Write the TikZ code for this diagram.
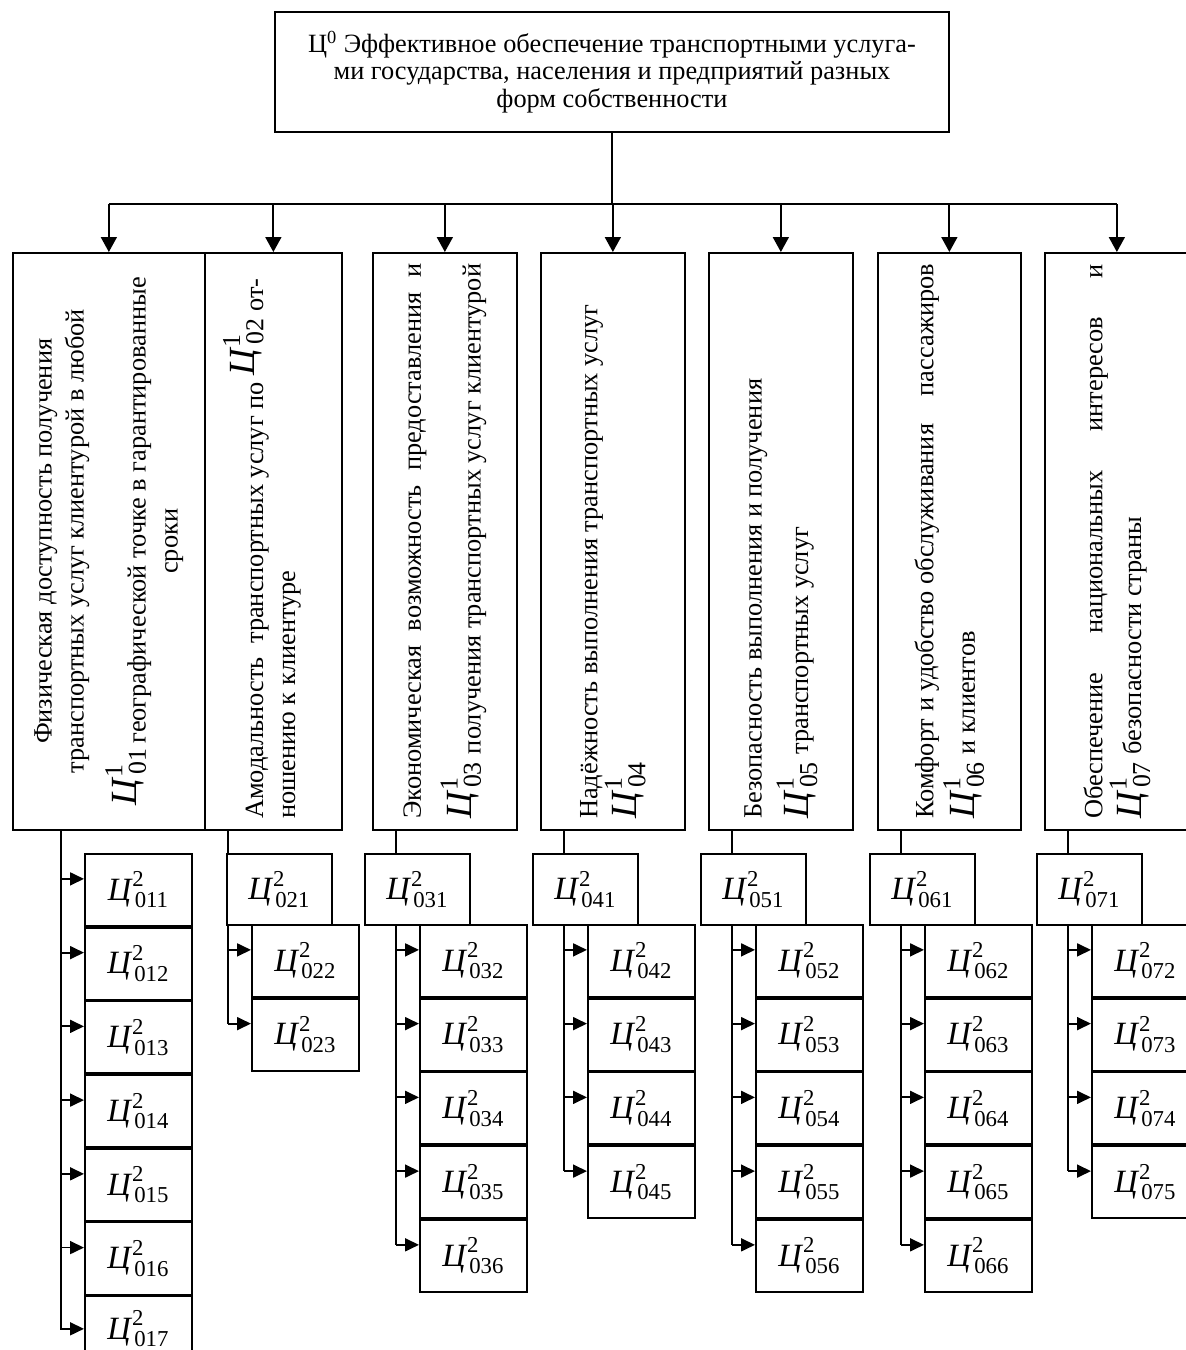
\documentclass[tikz,border=0pt]{standalone}
\usepackage{amsmath}
\usepackage{fontspec}
\setmainfont{Liberation Serif}
\usetikzlibrary{positioning,arrows.meta}
\newcommand{\celsym}[2]{{\fontsize{18.5}{18.5}\selectfont$\text{\itshape Ц}^{\mkern1mu\text{#1}}_{\mkern3mu\text{#2}}$}}
\newcommand{\celbig}[2]{{\fontsize{21}{21}\selectfont$\text{\itshape Ц}^{\mkern1mu\text{#1}}_{\mkern3mu\text{#2}}$}}
\newcommand{\celup}[2]{\smash{\raisebox{5pt}{\celbig{#1}{#2}}}}
\tikzset{
  goal/.style={draw, line width=1pt, inner sep=0pt, anchor=north west,
    minimum height=11.54cm, font=\fontsize{15}{18.2}\selectfont},
  subgoal/.style={draw, line width=1pt, inner sep=0pt, minimum width=2.14cm,
    minimum height=1.44cm},
  bus/.style={line width=1pt},
  arr/.style={line width=1pt, -{Triangle[length=0.3cm, width=0.32cm]}},
  subarr/.style={line width=1pt, -{Triangle[length=0.28cm, width=0.26cm]}}
}

\begin{document}
\begin{tikzpicture}[x=0.02cm, y=-0.02cm]
	\useasboundingbox (0,0) rectangle (1186,1350);

	\node[draw, line width=1pt, minimum width=13.48cm, minimum height=2.4cm, align=center,
	  font=\fontsize{15}{15.5}\selectfont] (c0) at (612,72)
	  {Ц\textsuperscript{0} Эффективное обеспечение транспортными услуга-\\ми государства, населения и предприятий разных\\форм собственности};

	\node[goal, minimum width=3.84cm] (c01) at (12,252) {\rotatebox{90}{\parbox{11.1cm}{\centering
	  Физическая доступность получения\\
	  транспортных услуг клиентурой в любой\\[0.6cm]
	  \celup{1}{01}\,географической точке в гарантированные\\
	  сроки}}};
	\node[goal, minimum width=2.74cm] (c02) at (204,252) {\rotatebox{90}{\parbox{11.1cm}{\raggedright
	  Амодальность\ \ транспортных услуг по \celup{1}{02} от-\\
	  ношению к клиентуре}}};
	\node[goal, minimum width=2.88cm] (c03) at (372,252) {\rotatebox{90}{\parbox{11.1cm}{\raggedright
	  Экономическая\hfill возможность\hfill предоставления\hfill и\\[0.56cm]
	  \celup{1}{03}\hfill получения транспортных услуг клиентурой}}};
	\node[goal, minimum width=2.88cm] (c04) at (540,252) {\rotatebox{90}{\parbox{11.1cm}{\raggedright
	  Надёжность выполнения транспортных услуг\\
	  \celbig{1}{04}}}};
	\node[goal, minimum width=2.88cm] (c05) at (708,252) {\rotatebox{90}{\parbox{11.1cm}{\raggedright
	  Безопасность выполнения и получения\\[0.15cm]
	  \celbig{1}{05} транспортных услуг}}};
	\node[goal, minimum width=2.86cm] (c06) at (877,252) {\rotatebox{90}{\parbox{11.1cm}{\raggedright
	  Комфорт и удобство обслуживания\hfill пассажиров\\[0.05cm]
	  \celbig{1}{06} и клиентов}}};
	\node[goal, minimum width=2.88cm] (c07) at (1044,252) {\rotatebox{90}{\parbox{11.1cm}{\raggedright
	  Обеспечение\hfill национальных\hfill интересов\hfill и\\
	  \celbig{1}{07} безопасности страны}}};

	\coordinate (t) at (612,204);
	\draw[bus] (c0.south -| t) -- (t);
	\draw[bus] (c01.north |- t) -- (c07.north |- t);
	\foreach \i in {01,02,03,04,05,06,07}
		\draw[arr] (c\i.north |- t) -- (c\i.north);

	\node[subgoal, anchor=north west] (c011) at (84,853) {\celsym{2}{011}};
	\node[subgoal, below=0pt of c011] (c012) {\celsym{2}{012}};
	\node[subgoal, below=0pt of c012] (c013) {\celsym{2}{013}};
	\node[subgoal, below=0pt of c013] (c014) {\celsym{2}{014}};
	\node[subgoal, below=0pt of c014] (c015) {\celsym{2}{015}};
	\node[subgoal, below=0pt of c015] (c016) {\celsym{2}{016}};
	\node[subgoal, below=0pt of c016, minimum height=1.3cm] (c017) {\celsym{2}{017}};

	\node[subgoal, anchor=north west, minimum width=2.1cm, minimum height=1.42cm] (c021) at (226,853) {\celsym{2}{021}};
	\node[subgoal, anchor=north west] (c022) at (251,924) {\celsym{2}{022}};
	\node[subgoal, below=0pt of c022] (c023) {\celsym{2}{023}};

	\node[subgoal, anchor=north west, minimum width=2.1cm, minimum height=1.42cm] (c031) at (364,853) {\celsym{2}{031}};
	\node[subgoal, anchor=north west] (c032) at (419,924) {\celsym{2}{032}};
	\node[subgoal, below=0pt of c032] (c033) {\celsym{2}{033}};
	\node[subgoal, below=0pt of c033] (c034) {\celsym{2}{034}};
	\node[subgoal, below=0pt of c034] (c035) {\celsym{2}{035}};
	\node[subgoal, below=0pt of c035] (c036) {\celsym{2}{036}};

	\node[subgoal, anchor=north west, minimum width=2.1cm, minimum height=1.42cm] (c041) at (532,853) {\celsym{2}{041}};
	\node[subgoal, anchor=north west] (c042) at (587,924) {\celsym{2}{042}};
	\node[subgoal, below=0pt of c042] (c043) {\celsym{2}{043}};
	\node[subgoal, below=0pt of c043] (c044) {\celsym{2}{044}};
	\node[subgoal, below=0pt of c044] (c045) {\celsym{2}{045}};

	\node[subgoal, anchor=north west, minimum width=2.1cm, minimum height=1.42cm] (c051) at (700,853) {\celsym{2}{051}};
	\node[subgoal, anchor=north west] (c052) at (755,924) {\celsym{2}{052}};
	\node[subgoal, below=0pt of c052] (c053) {\celsym{2}{053}};
	\node[subgoal, below=0pt of c053] (c054) {\celsym{2}{054}};
	\node[subgoal, below=0pt of c054] (c055) {\celsym{2}{055}};
	\node[subgoal, below=0pt of c055] (c056) {\celsym{2}{056}};

	\node[subgoal, anchor=north west, minimum width=2.1cm, minimum height=1.42cm] (c061) at (869,853) {\celsym{2}{061}};
	\node[subgoal, anchor=north west] (c062) at (924,924) {\celsym{2}{062}};
	\node[subgoal, below=0pt of c062] (c063) {\celsym{2}{063}};
	\node[subgoal, below=0pt of c063] (c064) {\celsym{2}{064}};
	\node[subgoal, below=0pt of c064] (c065) {\celsym{2}{065}};
	\node[subgoal, below=0pt of c065] (c066) {\celsym{2}{066}};

	\node[subgoal, anchor=north west, minimum width=2.1cm, minimum height=1.42cm] (c071) at (1036,853) {\celsym{2}{071}};
	\node[subgoal, anchor=north west] (c072) at (1091,924) {\celsym{2}{072}};
	\node[subgoal, below=0pt of c072] (c073) {\celsym{2}{073}};
	\node[subgoal, below=0pt of c073] (c074) {\celsym{2}{074}};
	\node[subgoal, below=0pt of c074] (c075) {\celsym{2}{075}};

	\coordinate (k1) at ([xshift=-0.46cm]c011.west);
	\draw[subarr] (k1 |- c01.south) |- (c017.west);
	\coordinate (k2) at ([xshift=-0.46cm]c022.west);
	\draw[bus] (k2 |- c02.south) -- (k2 |- c021.north);
	\draw[bus] (k2 |- c021.south) -- ([shift={(-0.46cm,0.22cm)}]c023.west);
	\coordinate (k3) at ([xshift=-0.46cm]c032.west);
	\draw[bus] (k3 |- c03.south) -- (k3 |- c031.north);
	\draw[bus] (k3 |- c031.south) -- ([shift={(-0.46cm,0.22cm)}]c036.west);
	\coordinate (k4) at ([xshift=-0.46cm]c042.west);
	\draw[bus] (k4 |- c04.south) -- (k4 |- c041.north);
	\draw[bus] (k4 |- c041.south) -- ([shift={(-0.46cm,0.22cm)}]c045.west);
	\coordinate (k5) at ([xshift=-0.46cm]c052.west);
	\draw[bus] (k5 |- c05.south) -- (k5 |- c051.north);
	\draw[bus] (k5 |- c051.south) -- ([shift={(-0.46cm,0.22cm)}]c056.west);
	\coordinate (k6) at ([xshift=-0.46cm]c062.west);
	\draw[bus] (k6 |- c06.south) -- (k6 |- c061.north);
	\draw[bus] (k6 |- c061.south) -- ([shift={(-0.46cm,0.22cm)}]c066.west);
	\coordinate (k7) at ([xshift=-0.46cm]c072.west);
	\draw[bus] (k7 |- c07.south) -- (k7 |- c071.north);
	\draw[bus] (k7 |- c071.south) -- ([shift={(-0.46cm,0.22cm)}]c075.west);

	\foreach \n in {011,012,013,014,015,016,022,023,032,033,034,035,036,042,043,044,045,
	                052,053,054,055,056,062,063,064,065,066,072,073,074,075}
		\draw[subarr] ([shift={(-0.46cm,0.22cm)}]c\n.west) -- ([yshift=0.22cm]c\n.west);
\end{tikzpicture}
\end{document}
